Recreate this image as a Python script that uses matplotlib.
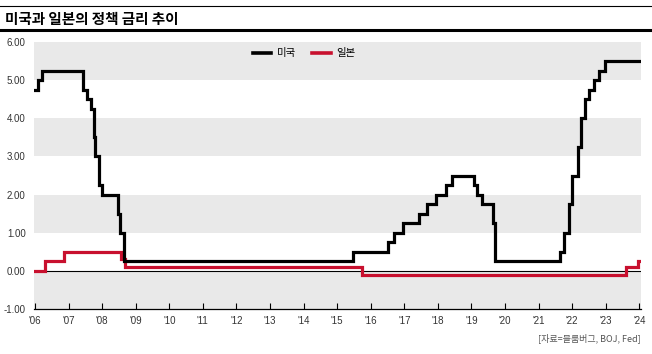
import matplotlib.pyplot as plt
from matplotlib.lines import Line2D

plt.rcParams['font.family'] = ['Noto Sans CJK KR', 'DejaVu Sans']

# 미국 정책금리 (상단), 변경 시점(연도 소수) / 값
us_dates = [2006.0, 2006.1, 2006.22, 2007.44, 2007.55, 2007.66, 2007.77, 2007.8,
            2007.91, 2008.01, 2008.46, 2008.53, 2008.65, 2015.48, 2016.5, 2016.7,
            2016.95, 2017.44, 2017.69, 2017.94, 2018.24, 2018.43, 2019.07, 2019.17,
            2019.3, 2019.64, 2019.69, 2021.65, 2021.75, 2021.9, 2022.0, 2022.18,
            2022.25, 2022.37, 2022.51, 2022.64, 2022.79, 2022.99, 2024.05]
us_rates = [4.75, 5.0, 5.25, 4.75, 4.5, 4.25, 3.5, 3.0,
            2.25, 2.0, 1.5, 1.0, 0.25, 0.5, 0.75, 1.0,
            1.25, 1.5, 1.75, 2.0, 2.25, 2.5, 2.25, 2.0,
            1.75, 1.25, 0.25, 0.5, 1.0, 1.75, 2.5, 3.25,
            4.0, 4.5, 4.75, 5.0, 5.25, 5.5, 5.5]

# 일본 정책금리
jp_dates = [2006.0, 2006.3, 2006.86, 2008.56, 2008.67, 2015.75, 2023.6, 2023.97, 2024.05]
jp_rates = [0.0, 0.25, 0.5, 0.3, 0.1, -0.1, 0.1, 0.25, 0.25]

years = list(range(2006, 2025))
year_labels = ["'%02d" % (y % 100) for y in years]
y_ticks = [-1, 0, 1, 2, 3, 4, 5, 6]

W, H = 652, 354
fig = plt.figure(figsize=(W / 100, H / 100), dpi=100)
ax = fig.add_axes([34 / W, (H - 309) / H, (641 - 34) / W, (309 - 42) / H])

# 회색 배경 띠
for lo in [-1, 1, 3, 5]:
    ax.axhspan(lo, lo + 1, color='#e9e9e9', lw=0, zorder=0)
ax.axhline(0, color='black', lw=0.8, zorder=1)

ax.plot(jp_dates, jp_rates, drawstyle='steps-post', color='#c8102e', lw=2.3,
        solid_joinstyle='miter', zorder=3)
ax.plot(us_dates, us_rates, drawstyle='steps-post', color='black', lw=2.3,
        solid_joinstyle='miter', zorder=4)

ax.set_xlim(2005.97, 2024.05)
ax.set_ylim(-1, 6)
ax.set_xticks(years)
ax.set_xticklabels(year_labels, fontsize=7, color='#333333', family='Liberation Sans')
ax.set_yticks(y_ticks)
ax.set_yticklabels(['%.2f' % v for v in y_ticks], fontsize=7, color='#333333',
                   family='Liberation Sans')
ax.tick_params(axis='x', direction='in', length=4, width=0.8, pad=5)
ax.tick_params(axis='y', length=0, pad=6)
for s in ['top', 'right', 'left']:
    ax.spines[s].set_visible(False)
ax.spines['bottom'].set_linewidth(0.9)

handles = [Line2D([], [], color='black', lw=2.6), Line2D([], [], color='#c8102e', lw=2.6)]
ax.legend(handles, ['미국', '일본'], loc='center', bbox_to_anchor=(0.445, 0.957), ncol=2,
          frameon=False, fontsize=7.5, handlelength=1.8, handletextpad=0.5,
          columnspacing=1.6)

# 제목과 구분선
fig.add_artist(Line2D([0, 1], [1 - 6 / H, 1 - 6 / H], color='black', lw=0.8))
fig.text(5 / W, 1 - 19 / H, '미국과 일본의 정책 금리 추이', fontsize=10.5,
         fontweight='bold', va='center', ha='left')
fig.add_artist(Line2D([0, 1], [1 - 30 / H, 1 - 30 / H], color='black', lw=2.2))

fig.text(641 / W, 1 - 338 / H, '[자료=블룸버그, BOJ, Fed]', fontsize=6.5,
         color='#555555', ha='right', va='center')

fig.savefig('out.png', dpi=100)
